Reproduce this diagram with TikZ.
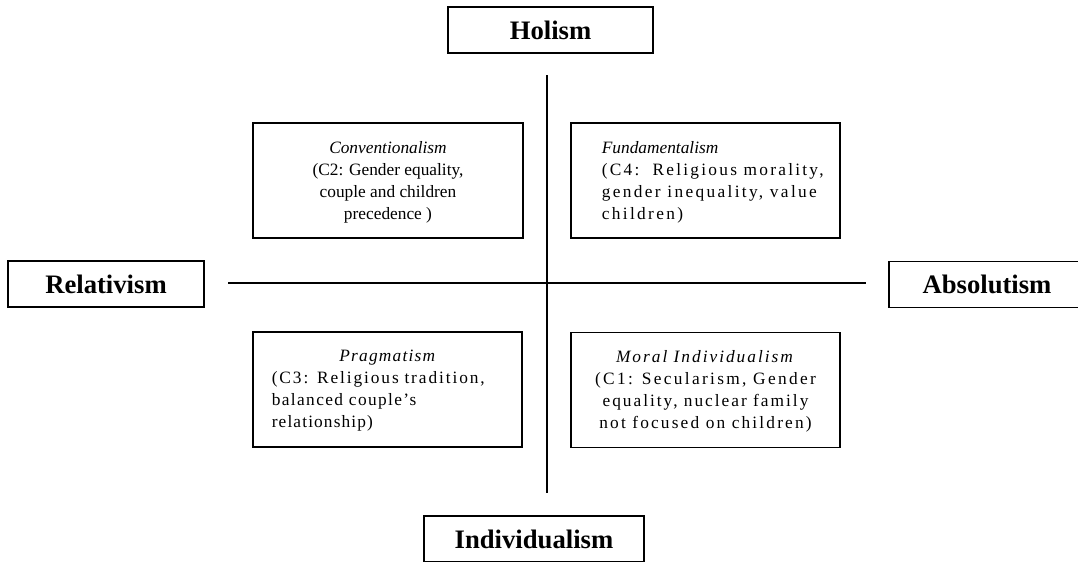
\documentclass[tikz,border=0pt]{standalone}
\usepackage{fontspec}
\setmainfont{Liberation Serif}
\newcommand{\spaced}[2]{{\addfontfeature{LetterSpace=#1}#2}}
\begin{document}
\begin{tikzpicture}[x=0.75pt, y=-0.75pt, line width=1.3pt,
  pole/.style={draw, minimum width=147pt, minimum height=34.5pt, inner sep=0pt,
    font=\fontsize{20}{24}\selectfont\bfseries},
  quad/.style={draw, minimum width=202pt, minimum height=86.25pt, inner sep=0pt},
  quadtext/.style={inner sep=0pt, font=\fontsize{13}{16.5}\selectfont}]

  \useasboundingbox (0,0) rectangle (1078,561);
  \clip (0,0) rectangle (1078,561);

  % ---- the four poles ----
  \node[pole, minimum width=153.75pt] (holism) at (550.5,30) {Holism};
  \node[pole] (relat) at (106,284) {Relativism};
  \node[pole] (absol) at (987,284.5) {Absolutism};
  \node[pole, minimum width=165pt] (indiv) at (534,539) {Individualism};

  % ---- axes ----
  \coordinate (hleft) at (228,283);
  \coordinate (hright) at (866,283);
  \coordinate (vtop) at (547,75);
  \coordinate (vbot) at (547,493);
  \draw[line width=1.4pt] (hleft) -- (hright);
  \draw[line width=1.4pt] (vtop) -- (vbot);

  % ---- quadrants ----
  \node[quad] (conv) at (388,180.5) {};
  \node[quadtext, anchor=north, align=center] (convtxt) at ([yshift=-13.5pt]conv.north)
    {\textit{Conventionalism}\\(C2: Gender equality,\\couple and children\\precedence )};

  \node[quad] (fund) at (705.5,180.5) {};
  \node[quadtext, anchor=north west, align=left] (fundtxt)
    at ([xshift=23.25pt, yshift=-13.5pt]fund.north west)
    {\textit{Fundamentalism}\\\spaced{13}{(C4:\ \ Religious morality,}\\
     \spaced{13.5}{gender inequality, value}\\\spaced{13.5}{children)}};

  \node[quad] (prag) at (387.5,389.5) {};
  \node[quadtext, anchor=north west, text width=174pt, align=left] (pragtxt)
    at ([xshift=14.25pt, yshift=-13.5pt]prag.north west)
    {\makebox[\linewidth]{\spaced{7}{\textit{Pragmatism}}}\\\spaced{11}{(C3: Religious tradition,}\\
     \spaced{8}{balanced couple’s}\\\spaced{6.5}{relationship)}};

  \node[quad] (moral) at (705.5,390) {};
  \node[quadtext, anchor=north, align=center] (moraltxt) at ([yshift=-13.5pt]moral.north)
    {\spaced{11.5}{\textit{Moral Individualism}}\\\spaced{13.5}{(C1: Secularism, Gender}\\
     \spaced{11.5}{equality, nuclear family}\\\spaced{12.5}{not focused on children)}};

\end{tikzpicture}
\end{document}
